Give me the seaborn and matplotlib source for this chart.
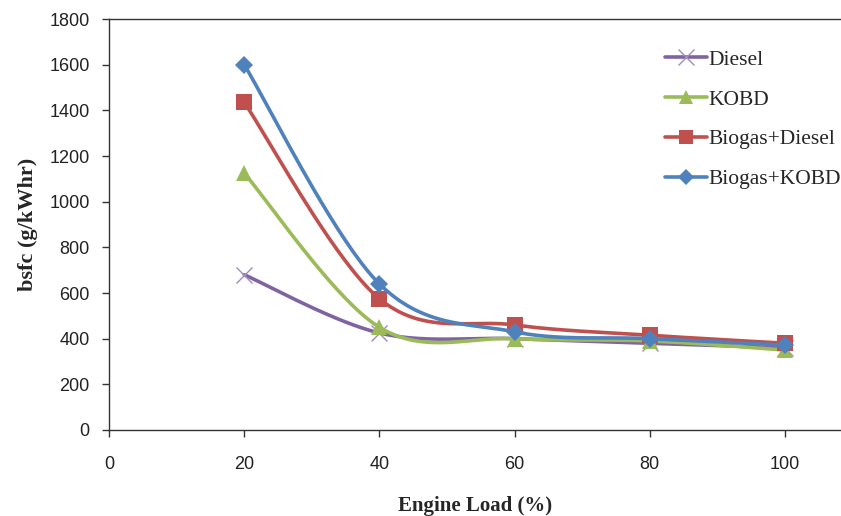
import numpy as np
import pandas as pd
import matplotlib
matplotlib.use("Agg")
import matplotlib.pyplot as plt
import seaborn as sns
from matplotlib.lines import Line2D

# ---- data ----
load = [20, 40, 60, 80, 100]
diesel = [680, 425, 400, 380, 360]
kobd = [1125, 450, 400, 390, 350]
biogas_diesel = [1435, 575, 460, 415, 380]
biogas_kobd = [1600, 640, 430, 400, 372]

series_names = ["Diesel", "KOBD", "Biogas+Diesel", "Biogas+KOBD"]
series_values = [diesel, kobd, biogas_diesel, biogas_kobd]
colors = ["#8064A2", "#9BBB59", "#C0504D", "#4F81BD"]
markers = ["x", "^", "s", "D"]
msizes = [12, 11, 11, 9.5]

xticks = [0, 20, 40, 60, 80, 100]
yticks = [0, 200, 400, 600, 800, 1000, 1200, 1400, 1600, 1800]


def smooth(xv, yv, n=40):
    """Excel-like smoothed line (Catmull-Rom Bezier)."""
    p = np.column_stack([xv, yv]).astype(float)
    pts = []
    m = len(p)
    for i in range(m - 1):
        p0 = p[i - 1] if i > 0 else p[i]
        p1 = p[i]
        p2 = p[i + 1]
        p3 = p[i + 2] if i + 2 < m else p[i + 1]
        b1 = p1 + (p2 - p0) / 6.0
        b2 = p2 - (p3 - p1) / 6.0
        t = np.linspace(0, 1, n)[:, None]
        seg = ((1 - t) ** 3) * p1 + 3 * ((1 - t) ** 2) * t * b1 + 3 * (1 - t) * t ** 2 * b2 + t ** 3 * p2
        pts.append(seg if i == 0 else seg[1:])
    pts = np.vstack(pts)
    return pts[:, 0], pts[:, 1]


sns.set_style("white")
plt.rcParams["font.family"] = ["Liberation Serif", "DejaVu Serif"]

fig = plt.figure(figsize=(8.41, 5.16), dpi=100)
ax = fig.add_axes([109 / 841, 86 / 516, 1 - 109 / 841, (430 - 19) / 516])

for i, (name, vals) in enumerate(zip(series_names, series_values)):
    sx, sy = smooth(load, vals)
    sns.lineplot(x=sx, y=sy, ax=ax, color=colors[i], lw=2.6, sort=False,
                 estimator=None, zorder=2 + i * 2)
    if markers[i] == "x":
        ax.plot(load, vals, linestyle="none", marker="x", ms=msizes[i],
                mew=1.0, color="#A08CC0", zorder=3 + i * 2)
    else:
        ax.plot(load, vals, linestyle="none", marker=markers[i], ms=msizes[i],
                mew=0, color=colors[i], zorder=3 + i * 2)

ax.set_xlim(0, 108.3)
ax.set_ylim(0, 1800)
ax.set_xticks(xticks)
ax.set_yticks(yticks)

tick_font = ["Liberation Sans Narrow", "Liberation Sans", "DejaVu Sans"]
for lab in ax.get_xticklabels() + ax.get_yticklabels():
    lab.set_family(tick_font)
    lab.set_fontsize(13)
    lab.set_color("#222222")

ax.tick_params(axis="both", which="both", direction="out", length=5, width=1,
               color="#333333", bottom=True, left=True)
ax.tick_params(axis="x", pad=14)
ax.tick_params(axis="y", pad=9)

for s in ["left", "bottom", "top"]:
    ax.spines[s].set_visible(True)
    ax.spines[s].set_color("#333333")
    ax.spines[s].set_linewidth(1.0)
ax.spines["right"].set_visible(False)

ax.set_xlabel("Engine Load (%)", fontsize=15, fontweight="bold", labelpad=16)
ax.set_ylabel("bsfc (g/kWhr)", fontsize=16, fontweight="bold", labelpad=8)

handles = []
for i, name in enumerate(series_names):
    if markers[i] == "x":
        h = Line2D([], [], color=colors[i], lw=2.6, marker="x", ms=msizes[i],
                   mew=1.0, mec="#A08CC0")
    else:
        h = Line2D([], [], color=colors[i], lw=2.6, marker=markers[i],
                   ms=msizes[i] - 1, mew=0)
    handles.append(h)

leg = ax.legend(handles, series_names, loc="upper left",
                bbox_to_anchor=(547 / 732, 1 - 22 / 411), frameon=False,
                fontsize=15.5, handlelength=1.95, handletextpad=0.1,
                labelspacing=0.92, borderaxespad=0)

fig.savefig("out.png", dpi=100)
